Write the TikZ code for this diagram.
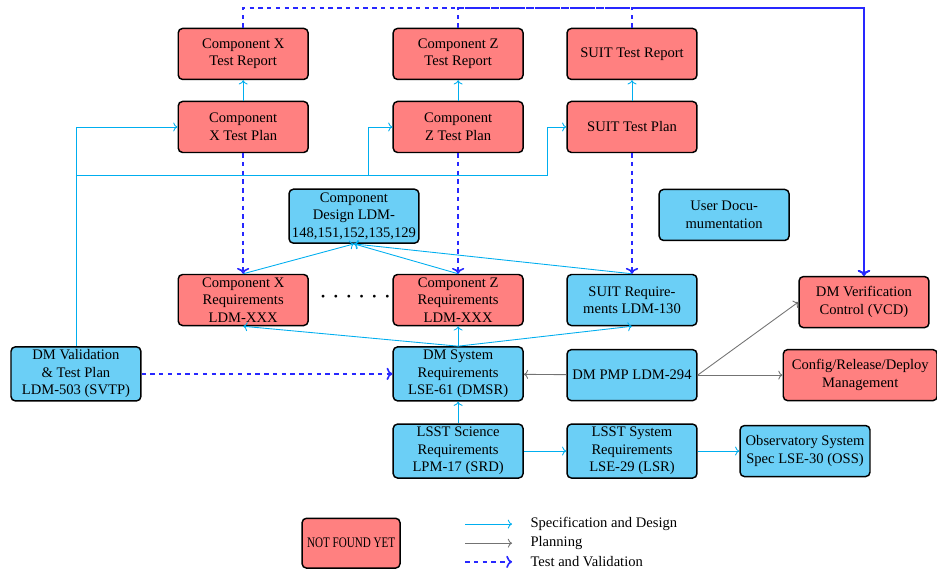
\documentclass[tikz,border=0pt]{standalone}
\usepackage{fontspec}
\setmainfont{Liberation Serif}
\usepackage{tikz}
\usetikzlibrary{positioning, arrows.meta, calc}
\definecolor{nfred}{HTML}{FF8080}
\definecolor{docblue}{HTML}{6BCFF6}
\definecolor{specline}{HTML}{00AEEF}
\definecolor{testline}{HTML}{2828FF}

\tikzset{
  docbox/.style={draw=black, line width=1pt, rounded corners=3pt, align=center,
    minimum width=3.13cm, minimum height=1.23cm, inner sep=2pt},
  redbox/.style={docbox, fill=nfred},
  bluebox/.style={docbox, fill=docblue},
  spec/.style={->, specline, line width=0.6pt},
  plan/.style={->, black!55, line width=0.6pt},
  test/.style={->, testline, dashed, line width=1.1pt}
}

\begin{document}
\begin{tikzpicture}[scale=1.0]
    \useasboundingbox (0,0) rectangle (22.58,13.81);
    % Testberichte und Testplaene oben
    \node[redbox] (tx) at (5.86,12.51) {Component X\\Test Report};
    \node[redbox] (px) at (5.86,10.75) {Component\\X Test Plan};
    \node[redbox] (tz) at (11.04,12.51) {Component Z\\Test Report};
    \node[redbox] (pz) at (11.04,10.75) {Component\\Z Test Plan};
    \node[redbox] (ts) at (15.23,12.51) {SUIT Test Report};
    \node[redbox] (ps) at (15.23,10.75) {SUIT Test Plan};
    % Design und Anforderungen
    \node[bluebox, minimum height=1.3cm] (design) at (8.53,8.60) {Component\\Design LDM-\\148,151,152,135,129};
    \node[bluebox] (userdoc) at (17.45,8.63) {User Docu-\\mumentation};
    \node[redbox, minimum height=1.23cm] (rx) at (5.86,6.58) {Component X\\Requirements\\LDM-XXX};
    \node (dots) at (8.56,6.63) {\footnotesize\textbullet\hspace{6pt}\textbullet\hspace{6pt}\textbullet\hspace{6pt}\textbullet\hspace{6pt}\textbullet\hspace{6pt}\textbullet};
    \node[redbox, minimum height=1.23cm] (rz) at (11.04,6.58) {Component Z\\Requirements\\LDM-XXX};
    \node[bluebox] (rs) at (15.23,6.58) {SUIT Require-\\ments LDM-130};
    \node[redbox] (vcd) at (20.82,6.53) {DM Verification\\Control (VCD)};
    % DM Ebene
    \node[bluebox, minimum height=1.3cm] (svtp) at (1.83,4.80) {DM Validation\\\& Test Plan\\LDM-503 (SVTP)};
    \node[bluebox, minimum height=1.3cm] (dmsr) at (11.04,4.80) {DM System\\Requirements\\LSE-61 (DMSR)};
    \node[bluebox] (pmp) at (15.23,4.77) {DM PMP LDM-294};
    \node[redbox, minimum width=3.71cm] (crd) at (20.73,4.77) {Config/Release/Deploy\\Management};
    % LSST Ebene
    \node[bluebox, minimum height=1.3cm] (srd) at (11.04,2.94) {LSST Science\\Requirements\\LPM-17 (SRD)};
    \node[bluebox, minimum height=1.3cm] (lsr) at (15.23,2.94) {LSST System\\Requirements\\LSE-29 (LSR)};
    \node[bluebox] (oss) at (19.40,2.94) {Observatory System\\Spec LSE-30 (OSS)};
    % Spezifikation und Design
    \draw[spec] (px) -- (tx);
    \draw[spec] (pz) -- (tz);
    \draw[spec] (ps) -- (ts);
    \coordinate (bus) at (1.83,9.57);
    \coordinate (busz) at (8.87,9.57);
    \coordinate (buss) at (13.18,9.57);
    \draw[spec] (svtp.north) |- (px.west);
    \draw[spec] (bus) -- (busz) |- (pz.west);
    \draw[spec] (busz) -- (buss) |- (ps.west);
    \draw[spec] (rx.north) -- (design.south);
    \draw[spec] (rz.north) -- (design.south);
    \draw[spec] (rs.north) -- (design.south);
    \draw[spec] (dmsr.north) -- (rx.south);
    \draw[spec] (dmsr.north) -- (rz.south);
    \draw[spec] (dmsr.north) -- (rs.south);
    \draw[spec] (srd) -- (dmsr);
    \draw[spec] (srd) -- (lsr);
    \draw[spec] (lsr) -- (oss);
    % Planung
    \draw[plan] (pmp) -- (dmsr);
    \draw[plan] (pmp.east) -- (vcd.west);
    \draw[plan] (pmp) -- (crd);
    % Test und Validierung
    \coordinate (topline) at (0,13.62);
    \draw[test] (svtp) -- (dmsr);
    \draw[test] (px) -- (rx);
    \draw[test] (pz) -- (rz);
    \draw[test] (ps) -- (rs);
    \draw[test] (tx.north) -- (tx.north |- topline) -| (vcd.north);
    \draw[test] (tz.north) -- (tz.north |- topline) -| (vcd.north);
    \draw[test] (ts.north) -- (ts.north |- topline) -| (vcd.north);
    % Legende
    \node[redbox, minimum width=2.36cm, minimum height=1.2cm] (nfy) at (8.46,0.72) {\scalebox{0.76}[1]{NOT FOUND YET}};
    \coordinate (la1) at (11.21,1.18); \coordinate (lb1) at (12.34,1.18);
    \coordinate (la2) at (11.21,0.72); \coordinate (lb2) at (12.34,0.72);
    \coordinate (la3) at (11.21,0.27); \coordinate (lb3) at (12.34,0.27);
    \draw[spec] (la1) -- (lb1);
    \draw[plan] (la2) -- (lb2);
    \draw[test] (la3) -- (lb3);
    \node[anchor=west] (lt1) at (12.66,1.18) {Specification and Design};
    \node[anchor=west] (lt2) at (12.66,0.72) {Planning};
    \node[anchor=west] (lt3) at (12.66,0.27) {Test and Validation};
  \end{tikzpicture}
\end{document}
